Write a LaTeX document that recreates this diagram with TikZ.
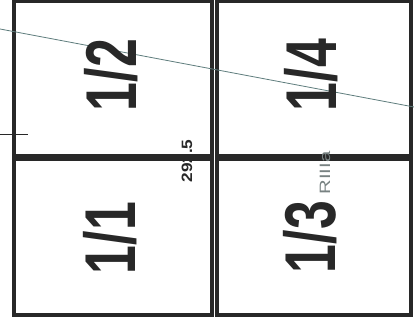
\documentclass[tikz,border=0pt]{standalone}
\usepackage{fontspec}
\setmainfont{Liberation Sans}
\definecolor{frame}{RGB}{40,40,40}
\definecolor{cutline}{RGB}{95,125,125}
\definecolor{lbl}{RGB}{120,130,130}
\begin{document}
\begin{tikzpicture}[x=1pt,y=-1pt,
  cell/.style={draw=frame,line width=3.6pt},
  big/.style={rotate=90,inner sep=0pt,text=frame,font=\fontsize{72}{72}\selectfont\bfseries},
  small/.style={rotate=90,inner sep=0pt}]
\useasboundingbox (0,0) rectangle (414,323);
\fill[white] (0,0) rectangle (414,323);
% cells
\draw[cell] (14,1) rectangle (212,156);
\draw[cell] (217,1) rectangle (411,156);
\draw[cell] (14,159) rectangle (212,315);
\draw[cell] (217,159) rectangle (411,315);
% cut line and tick
\coordinate (ca) at (0,29);
\coordinate (cb) at (414,107);
\draw[cutline,line width=0.8pt] (ca) -- (cb);
\coordinate (ta) at (0,135);
\coordinate (tb) at (28,135);
\draw[frame,line width=1pt] (ta) -- (tb);
% labels
\node[big] (n12) at (111,75) {\scalebox{0.72}[1]{1/2}};
\node[big] (n14) at (311,75) {\scalebox{0.72}[1]{1/4}};
\node[big] (n11) at (110,238) {\scalebox{0.72}[1]{1/1}};
\node[big] (n13) at (310,237) {\scalebox{0.72}[1]{1/3}};
\node[small,text=frame,font=\fontsize{15}{15}\selectfont\bfseries] (dim) at (187,161) {\scalebox{1.15}[1]{292.5}};
\node[small,text=lbl,font=\fontsize{15}{15}\selectfont] (r3) at (325,173) {\scalebox{1.35}[1]{RIIIa}};
\end{tikzpicture}
\end{document}
